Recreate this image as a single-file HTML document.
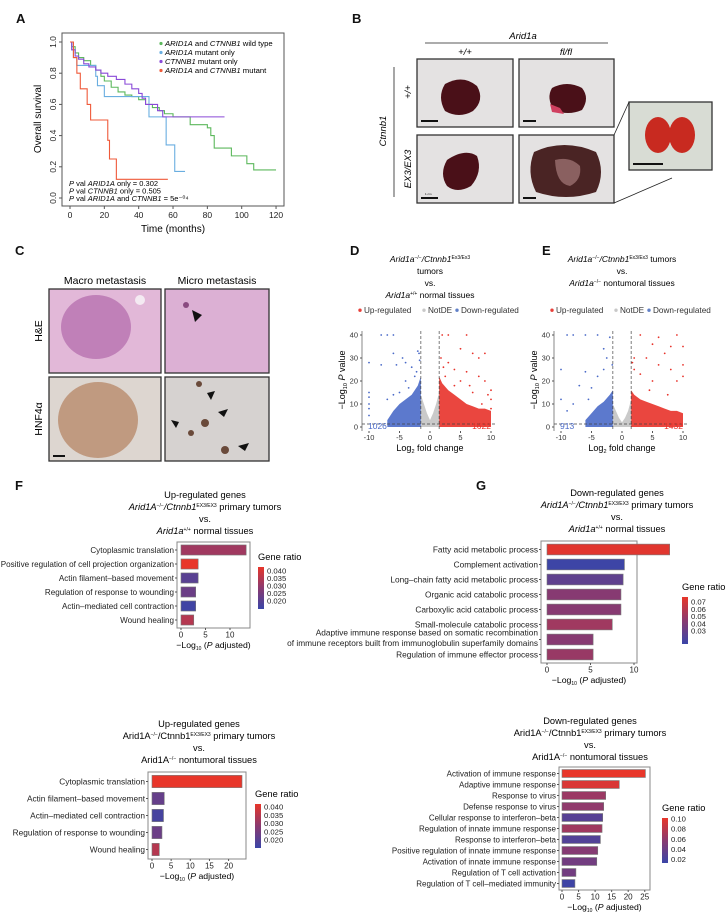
<!DOCTYPE html>
<html><head><meta charset="utf-8"><style>
html,body{margin:0;padding:0;background:#fff;}
svg{display:block;font-family:"Liberation Sans",sans-serif;}
</style></head><body>
<svg id="fig" width="726" height="913" viewBox="0 0 726 913" xmlns="http://www.w3.org/2000/svg">
<defs>
<linearGradient id="gr" x1="0" y1="0" x2="0" y2="1"><stop offset="0" stop-color="#e8362a"/><stop offset="0.5" stop-color="#8a3a70"/><stop offset="1" stop-color="#3a45a8"/></linearGradient>
</defs>
<g font-family="Liberation Sans, sans-serif" font-weight="bold" font-size="13" fill="#111">
<text x="16" y="23">A</text>
<text x="352" y="23">B</text>
<text x="15" y="255">C</text>
<text x="350" y="255">D</text>
<text x="542" y="255">E</text>
<text x="15" y="490">F</text>
<text x="476" y="490">G</text>
</g>

<g font-size="9.5">
<text x="523" y="39" text-anchor="middle" font-style="italic">Arid1a</text>
<line x1="425" y1="43" x2="608" y2="43" stroke="#222" stroke-width="0.8"/>
<text x="465" y="55" text-anchor="middle" font-style="italic">+/+</text>
<text x="566" y="55" text-anchor="middle" font-style="italic">fl/fl</text>
<line x1="394" y1="67" x2="394" y2="197" stroke="#222" stroke-width="0.8"/>
<text transform="translate(386,131) rotate(-90)" text-anchor="middle" font-style="italic">Ctnnb1</text>
<text transform="translate(411,92) rotate(-90)" text-anchor="middle" font-style="italic">+/+</text>
<text transform="translate(411,169) rotate(-90)" text-anchor="middle" font-style="italic">EX3/EX3</text>
<g><rect x="417" y="59" width="96" height="68" fill="#e4e2e2" stroke="#333" stroke-width="1.3"/>
<path d="M445,84 q18,-10 32,2 q8,14 -4,25 q-14,8 -28,0 q-8,-14 0,-27z" fill="#4a1018"/><rect x="421" y="120" width="17" height="2" fill="#111"/></g>
<g><rect x="519" y="59" width="95" height="68" fill="#e4e2e2" stroke="#333" stroke-width="1.3"/>
<path d="M552,88 q15,-8 30,0 q8,10 0,22 q-14,6 -28,0 q-8,-12 -2,-22z" fill="#4a1018"/><path d="M550,104 l10,4 l4,6 l-12,-2z" fill="#d04060"/><rect x="523" y="120" width="13" height="2" fill="#111"/></g>
<g><rect x="417" y="135" width="96" height="68" fill="#e4e2e2" stroke="#333" stroke-width="1.3"/>
<path d="M447,160 q18,-12 30,-4 q6,16 -6,30 q-14,8 -24,0 q-8,-12 0,-26z" fill="#4a1018"/><rect x="421" y="197" width="17" height="2" fill="#111"/><text x="425" y="195" font-size="3">1 cm</text></g>
<g><rect x="519" y="135" width="95" height="68" fill="#e4e2e2" stroke="#333" stroke-width="1.3"/>
<path d="M534,152 q30,-14 62,0 q10,20 0,40 q-30,10 -60,0 q-10,-20 -2,-40z" fill="#4a2424"/><path d="M555,160 q15,-4 25,6 q2,14 -10,20 q-14,-2 -15,-26z" fill="#8a6060"/><rect x="523" y="197" width="13" height="2" fill="#111"/></g>
<g><rect x="629" y="102" width="83" height="68" fill="#d8dcd4" stroke="#333" stroke-width="1.3"/>
<ellipse cx="658" cy="135" rx="13" ry="18" fill="#c82a20"/><ellipse cx="682" cy="135" rx="13" ry="18" fill="#c82a20"/><rect x="633" y="163" width="30" height="2" fill="#111"/></g>
<line x1="614" y1="135" x2="629" y2="102" stroke="#222" stroke-width="0.8"/>
<line x1="614" y1="203" x2="672" y2="178" stroke="#222" stroke-width="0.8"/>
</g>

<g font-size="10.5">
<text x="105" y="284" text-anchor="middle">Macro metastasis</text>
<text x="217" y="284" text-anchor="middle">Micro metastasis</text>
<text transform="translate(42,331) rotate(-90)" text-anchor="middle">H&amp;E</text>
<text transform="translate(42,419) rotate(-90)" text-anchor="middle">HNF4α</text>
<g><rect x="49" y="289" width="112" height="84" fill="#e2b8d8" stroke="#333" stroke-width="1.3"/><ellipse cx="96" cy="327" rx="35" ry="32" fill="#c080b8"/><circle cx="140" cy="300" r="5" fill="#f4eaf2"/></g>
<g><rect x="165" y="289" width="104" height="84" fill="#dcb0d4" stroke="#333" stroke-width="1.3"/><circle cx="186" cy="305" r="3" fill="#8a4a80"/><path d="M192,310 l10,5 l-7,7z" fill="#111"/></g>
<g><rect x="49" y="377" width="112" height="84" fill="#ddd6d0" stroke="#333" stroke-width="1.3"/><ellipse cx="98" cy="420" rx="40" ry="38" fill="#c09a80"/><rect x="53" y="455" width="12" height="2" fill="#111"/></g>
<g><rect x="165" y="377" width="104" height="84" fill="#d6d2d0" stroke="#333" stroke-width="1.3"/>
<circle cx="199" cy="384" r="3" fill="#6a4a3a"/><circle cx="205" cy="423" r="4" fill="#6a4a3a"/><circle cx="191" cy="433" r="3" fill="#6a4a3a"/><circle cx="225" cy="450" r="4" fill="#6a4a3a"/>
<path d="M207,393 l8,-2 l-4,9z" fill="#111"/><path d="M218,412 l10,-3 l-4,8z" fill="#111"/><path d="M171,420 l8,2 l-3,6z" fill="#111"/><path d="M238,446 l11,-3 l-4,8z" fill="#111"/></g>
</g>

<g id="charts"></g>
</svg>
<script>
// ===== Panel A data =====
const kmTimesWT=[0,1,3,5,8,12,15,18,20,24,28,32,36,40,44,48,52,55,60,70,80,82,84,92,94,103,107,120];
const kmSurvWT=[1,0.97,0.93,0.9,0.88,0.85,0.82,0.78,0.75,0.71,0.68,0.66,0.65,0.63,0.6,0.58,0.56,0.54,0.52,0.47,0.45,0.4,0.32,0.32,0.27,0.22,0.18,0.18];
const kmTimesArid=[0,1,2,4,15,16,20,46,56,61,67];
const kmSurvArid=[1,0.95,0.9,0.85,0.78,0.72,0.65,0.52,0.34,0.17,0.17];
const kmTimesCtn=[0,1,3,5,8,11,15,18,22,27,32,36,40,42,44,51,54,90];
const kmSurvCtn=[1,0.95,0.91,0.89,0.86,0.84,0.82,0.8,0.78,0.76,0.73,0.7,0.67,0.64,0.6,0.56,0.52,0.52];
const kmTimesBoth=[0,2,4,6,10,12,21,22,23,27,57];
const kmSurvBoth=[1,0.9,0.8,0.7,0.6,0.5,0.5,0.37,0.25,0.12,0.12];
const kmXTicks=[0,20,40,60,80,100,120];
const kmYTicks=[0,0.2,0.4,0.6,0.8,1.0];

// ===== Volcano data (D, E) =====
const volcXTicks=[-10,-5,0,5,10];
const volcYTicks=[0,10,20,30,40];
const dBlueX=[-10,-10,-10,-10,-10,-10,-8,-7,-6,-6,-5.5,-4.5,-4,-3,-2,-1.8,-2.5,-4,-5,-6,-7,-8,-3.5,-2.2,-1.7];
const dBlueY=[28,15,13,10,8,5,40,40,40,32,27,30,28,26,33,32,22,20,15,14,12,27,17,24,29];
const dRedX=[2,3,6,5,7,8,9,3,4,6,8,2.5,9,4,10,7,10,10,5,6.5,1.8,2.2,9.5,8.5];
const dRedY=[40,40,40,34,32,30,32,28,25,24,22,22,20,18,16,15,12,8,20,18,30,26,14,10];
const dBlueEnvX=[-7,-6,-5,-4,-3,-2,-1.5];
const dBlueEnvY=[3,7,10,12,14,18,22];
const dRedEnvX=[1.5,2,3,4,5,6,7,8,9,10];
const dRedEnvY=[22,19,16,14,12,10,9,8,8,7];
const dGreyEnvX=[-1.5,-1,-0.5,0,0.5,1,1.5];
const dGreyEnvY=[14,10,6,3,6,10,15];
const eBlueX=[-10,-10,-9,-8,-6,-4,-2,-3,-2.5,-6,-4,-7,-5,-8,-3,-1.6,-9,-5.5];
const eBlueY=[25,12,40,40,40,40,39,34,30,24,22,18,17,10,25,27,7,12];
const eRedX=[3,6,9,5,8,10,2,4,7,6,10,3,8,10,5,9,2,4.5,7.5,1.7];
const eRedY=[40,39,40,36,35,35,30,30,32,27,27,23,25,22,20,20,25,16,14,28];
const eBlueEnvX=[-6,-5,-4,-3,-2,-1.5];
const eBlueEnvY=[3,6,9,11,14,16];
const eRedEnvX=[1.5,2,3,4,5,6,7,8,9,10];
const eRedEnvY=[16,14,12,11,10,9,8,7,7,6];
const eGreyEnvX=[-1.5,-1,-0.5,0,0.5,1,1.5];
const eGreyEnvY=[10,7,4,2,4,7,12];

// ===== Bar chart data =====
const fTopTerms=["Cytoplasmic translation","Positive regulation of cell projection organization","Actin filament\u2013based movement","Regulation of response to wounding","Actin\u2013mediated cell contraction","Wound healing"];
const fTopValues=[13.3,3.5,3.5,3.0,3.0,2.6];
const fTopRatios=[0.033,0.043,0.022,0.025,0.018,0.036];
const fTopTicks=[0,5,10];
const fTopLegend=[0.040,0.035,0.030,0.025,0.020];

const gTopTerms=["Fatty acid metabolic process","Complement activation","Long\u2013chain fatty acid metabolic process","Organic acid catabolic process","Carboxylic acid catabolic process","Small-molecule catabolic process","Adaptive immune response based on somatic recombination|of immune receptors built from immunoglobulin superfamily domains","Regulation of immune effector process"];
const gTopValues=[14.1,8.9,8.75,8.5,8.5,7.5,5.3,5.3];
const gTopRatios=[0.075,0.026,0.037,0.05,0.05,0.057,0.05,0.055];
const gTopTicks=[0,5,10];
const gTopLegend=[0.07,0.06,0.05,0.04,0.03];

const fBotTerms=["Cytoplasmic translation","Actin filament\u2013based movement","Actin\u2013mediated cell contraction","Regulation of response to wounding","Wound healing"];
const fBotValues=[23.5,3.2,3.0,2.6,1.9];
const fBotRatios=[0.043,0.024,0.019,0.025,0.036];
const fBotTicks=[0,5,10,15,20];
const fBotLegend=[0.040,0.035,0.030,0.025,0.020];

const gBotTerms=["Activation of immune response","Adaptive immune response","Response to virus","Defense response to virus","Cellular response to interferon\u2013beta","Regulation of innate immune response","Response to interferon\u2013beta","Positive regulation of innate immune response","Activation of innate immune response","Regulation of T cell activation","Regulation of T cell\u2013mediated immunity"];
const gBotValues=[25.2,17.3,13.2,12.6,12.3,12.1,11.6,10.8,10.5,4.2,3.9];
const gBotRatios=[0.105,0.098,0.07,0.065,0.035,0.072,0.033,0.06,0.05,0.05,0.022];
const gBotTicks=[0,5,10,15,20,25];
const gBotLegend=[0.10,0.08,0.06,0.04,0.02];

const NS="http://www.w3.org/2000/svg";
const root=document.getElementById('charts');
function mk(tag,attrs,parent,name){
  const el=document.createElementNS(NS,tag);
  for(const k in attrs) el.setAttribute(k,attrs[k]);
  
  
  (parent||root).appendChild(el);
  return el;
}
function txt(x,y,s,attrs,parent,name){const t=mk('text',Object.assign({x:x,y:y},attrs||{}),parent,name);t.textContent=s;return t;}
function rich(t,parts,supSize){
  parts.forEach(p=>{const s=document.createElementNS(NS,'tspan');
    if(p[1]==1)s.setAttribute('font-style','italic');
    if(p[1]==2){s.setAttribute('font-size',supSize||'5');s.setAttribute('dy','-3');}
    if(p[1]==3){s.setAttribute('dy','3');}
    if(p[1]==4){s.setAttribute('dy','3');s.setAttribute('font-style','italic');}
    s.textContent=p[0];t.appendChild(s);});
}

// ===== Panel A =====
(function(){
  const g=mk('g',{},root,'survival-chart');
  const xA=t=>70+t*1.717, yA=s=>198-s*156;
  mk('rect',{x:62,y:33,width:222,height:173,fill:'none',stroke:'#555','stroke-width':1},g,'plot-frame');
  kmXTicks.forEach(t=>{mk('line',{x1:xA(t),x2:xA(t),y1:206,y2:209,stroke:'#555'},g,'x-tick');txt(xA(t),218,String(t),{'font-size':8.5,'text-anchor':'middle',fill:'#222'},g,'x-tick-label');});
  kmYTicks.forEach(v=>{mk('line',{x1:59,x2:62,y1:yA(v),y2:yA(v),stroke:'#555'},g,'y-tick');txt(0,0,v.toFixed(1),{'font-size':8.5,'text-anchor':'middle',fill:'#222',transform:`translate(56,${yA(v)}) rotate(-90)`},g,'y-tick-label');});
  txt(173,232,'Time (months)',{'font-size':10,'text-anchor':'middle'},g,'x-axis-title');
  txt(0,0,'Overall survival',{'font-size':10,'text-anchor':'middle',transform:'translate(41,119) rotate(-90)'},g,'y-axis-title');
  const series=[[kmTimesWT,kmSurvWT,'#5cb85c','curve-wild-type'],[kmTimesArid,kmSurvArid,'#6aaee0','curve-arid1a-mutant'],[kmTimesCtn,kmSurvCtn,'#8a4ad8','curve-ctnnb1-mutant'],[kmTimesBoth,kmSurvBoth,'#ef5a3a','curve-double-mutant']];
  series.forEach(([T,S,c,n])=>{
    let d=`M${xA(T[0])},${yA(S[0])}`;
    for(let i=1;i<T.length;i++){d+=` H${xA(T[i])} V${yA(S[i])}`;}
    mk('path',{d:d,fill:'none',stroke:c,'stroke-width':1.1},g,n);
  });
  const leg=[['#5cb85c',[['ARID1A',1],[' and ',0],['CTNNB1',1],[' wild type',0]]],['#6aaee0',[['ARID1A',1],[' mutant only',0]]],['#8a4ad8',[['CTNNB1',1],[' mutant only',0]]],['#ef5a3a',[['ARID1A',1],[' and ',0],['CTNNB1',1],[' mutant',0]]]];
  leg.forEach((l,i)=>{const y=46+i*9;mk('circle',{cx:161,cy:y-2.5,r:1.6,fill:l[0]},g,'legend-marker');
    const t=mk('text',{x:165,y:y,'font-size':7.7},g,'legend-entry');
    l[1].forEach(p=>{const s=document.createElementNS(NS,'tspan');if(p[1])s.setAttribute('font-style','italic');s.textContent=p[0];t.appendChild(s);});});
  const pv=[[['P',1],[' val ',0],['ARID1A',1],[' only = 0.302',0]],[['P',1],[' val ',0],['CTNNB1',1],[' only = 0.505',0]],[['P',1],[' val ',0],['ARID1A',1],[' and ',0],['CTNNB1',1],[' = 5e',0],['\u207B\u2070\u2074',0]]];
  pv.forEach((l,i)=>{const t=mk('text',{x:69,y:186+i*7.5,'font-size':7.5},g,'p-value-text');
    l.forEach(p=>{const s=document.createElementNS(NS,'tspan');if(p[1])s.setAttribute('font-style','italic');s.textContent=p[0];t.appendChild(s);});});
})();

// ===== Volcano =====
function volcano(ox,name,bx,by,rx,ry,bex,bey,rex,rey,gex,gey,nDown,nUp,titleLines){
  const g=mk('g',{},root,name);
  const xV=v=>ox+430+v*6.1, yV=p=>427-p*2.3;
  const cx=ox+430;
  titleLines.forEach((ln,i)=>{const t=mk('text',{x:cx,y:262+i*12,'font-size':8.5,'text-anchor':'middle'},g,'volcano-title-line');rich(t,ln,'5');});
  const ly=313;
  [['#e8403a','Up-regulated',cx-70],['#c8c8c8','NotDE',cx-6],['#6080c8','Down-regulated',cx+27]].forEach(l=>{mk('circle',{cx:l[2],cy:ly-2.8,r:1.7,fill:l[0]},g,'legend-marker');txt(l[2]+4,ly,l[1],{'font-size':8.2,fill:'#333'},g,'legend-entry');});
  mk('line',{x1:ox+362,x2:ox+362,y1:331,y2:431,stroke:'#555','stroke-width':0.7},g,'y-axis-line');
  volcYTicks.forEach(v=>{mk('line',{x1:ox+360,x2:ox+362,y1:yV(v),y2:yV(v),stroke:'#555'},g,'y-tick');txt(ox+358,yV(v)+2.5,String(v),{'font-size':7.5,'text-anchor':'end',fill:'#333'},g,'y-tick-label');});
  volcXTicks.forEach(v=>{mk('line',{x1:xV(v),x2:xV(v),y1:431,y2:433,stroke:'#555'},g,'x-tick');txt(xV(v),440,String(v),{'font-size':7.5,'text-anchor':'middle',fill:'#333'},g,'x-tick-label');});
  const xl=txt(ox+430,451,'Log',{'font-size':9,'text-anchor':'middle'},g,'x-axis-title');
  const s1=document.createElementNS(NS,'tspan');s1.setAttribute('font-size','5.5');s1.setAttribute('dy','2');s1.textContent='2';xl.appendChild(s1);
  const s2=document.createElementNS(NS,'tspan');s2.setAttribute('dy','-2');s2.textContent=' fold change';xl.appendChild(s2);
  const yl=txt(0,0,'\u2212Log',{'font-size':9,'text-anchor':'middle',transform:`translate(${ox+345},380) rotate(-90)`},g,'y-axis-title');
  const s3=document.createElementNS(NS,'tspan');s3.setAttribute('font-size','5.5');s3.setAttribute('dy','2');s3.textContent='10';yl.appendChild(s3);
  const s4=document.createElementNS(NS,'tspan');s4.setAttribute('dy','-2');s4.setAttribute('font-style','italic');s4.textContent=' P';yl.appendChild(s4);
  const s5=document.createElementNS(NS,'tspan');s5.textContent=' value';yl.appendChild(s5);
  function env(X,Y,col,n){let d=`M${xV(X[0])},${yV(0)}`;X.forEach((x,i)=>{d+=` L${xV(x)},${yV(Y[i])}`;});d+=` L${xV(X[X.length-1])},${yV(0)} Z`;mk('path',{d:d,fill:col,opacity:0.9},g,n);}
  env(gex,gey,'#c4c4c4','notde-density');
  env(bex,bey,'#4a6ac8','down-density');
  env(rex,rey,'#e8322a','up-density');
  bx.forEach((x,i)=>mk('circle',{cx:xV(x),cy:yV(by[i]),r:0.9,fill:'#4a6ac8'},g,'down-point'));
  rx.forEach((x,i)=>mk('circle',{cx:xV(x),cy:yV(ry[i]),r:0.9,fill:'#e8322a'},g,'up-point'));
  [-1.5,1.5].forEach(v=>mk('line',{x1:xV(v),x2:xV(v),y1:331,y2:431,stroke:'#444','stroke-dasharray':'3,2','stroke-width':0.7},g,'fc-threshold-line'));
  mk('line',{x1:ox+362,x2:ox+495,y1:yV(1.3),y2:yV(1.3),stroke:'#444','stroke-dasharray':'3,2','stroke-width':0.7},g,'p-threshold-line');
  txt(ox+368,429,String(nDown),{'font-size':8.5,fill:'#4a6ac8'},g,'down-count');
  txt(ox+491,429,String(nUp),{'font-size':8.5,fill:'#e8322a','text-anchor':'end'},g,'up-count');
}
volcano(0,'volcano-d',dBlueX,dBlueY,dRedX,dRedY,dBlueEnvX,dBlueEnvY,dRedEnvX,dRedEnvY,dGreyEnvX,dGreyEnvY,1026,1622,
 [[['Arid1a',1],['\u2212/\u2212',2],['/Ctnnb1',4],['Ex3/Ex3',2]],[['tumors',0]],[['vs.',0]],[['Arid1a',1],['+/+',2],[' normal tissues',3]]]);
volcano(192,'volcano-e',eBlueX,eBlueY,eRedX,eRedY,eBlueEnvX,eBlueEnvY,eRedEnvX,eRedEnvY,eGreyEnvX,eGreyEnvY,913,1432,
 [[['Arid1a',1],['\u2212/\u2212',2],['/Ctnnb1',4],['Ex3/Ex3',2],[' tumors',3]],[['vs.',0]],[['Arid1a',1],['\u2212/\u2212',2],[' nontumoral tissues',3]]]);

// ===== Bar charts =====
function ratioColor(r,lo,hi){
  let t=(r-lo)/(hi-lo);t=Math.max(0,Math.min(1,t));
  const A=[58,69,168],M=[138,58,112],B=[232,54,42];
  let c; if(t<0.5){const u=t/0.5;c=A.map((a,i)=>a+(M[i]-a)*u);}else{const u=(t-0.5)/0.5;c=M.map((a,i)=>a+(B[i]-a)*u);}
  return `rgb(${c.map(Math.round).join(',')})`;
}
function barChart(o){
  const g=mk('g',{},root,o.name);
  o.title.forEach((ln,i)=>{const t=mk('text',{x:o.tcx,y:o.ty+i*12,'font-size':9.3,'text-anchor':'middle'},g,'chart-title-line');rich(t,ln,'5');});
  mk('rect',{x:o.bx0,y:o.by0,width:o.bx1-o.bx0,height:o.by1-o.by0,fill:'#fff',stroke:'#888','stroke-width':1},g,'plot-frame');
  const xS=v=>o.x0+v*o.ppu;
  const n=o.terms.length, step=(o.by1-o.by0-2*o.pad)/n, bh=step*0.72;
  o.terms.forEach((term,i)=>{
    const cy=o.by0+o.pad+step*(i+0.5);
    mk('rect',{x:xS(0),y:cy-bh/2,width:xS(o.values[i])-xS(0),height:bh,fill:ratioColor(o.ratios[i],o.lo,o.hi),stroke:'#777','stroke-width':0.6},g,'bar');
    mk('line',{x1:o.bx0-2,x2:o.bx0,y1:cy,y2:cy,stroke:'#555'},g,'y-tick');
    const parts=term.split('|');
    if(parts.length==1) txt(o.bx0-3,cy+2.8,term,{'font-size':o.fs,'text-anchor':'end',fill:'#222'},g,'term-label');
    else parts.forEach((p,j)=>txt(o.bx0-3,cy-4+j*10.5,p,{'font-size':o.fs,'text-anchor':'end',fill:'#222'},g,'term-label'));
  });
  o.ticks.forEach(v=>{mk('line',{x1:xS(v),x2:xS(v),y1:o.by1,y2:o.by1+2,stroke:'#555'},g,'x-tick');txt(xS(v),o.by1+9.5,String(v),{'font-size':8,'text-anchor':'middle',fill:'#222'},g,'x-tick-label');});
  const xl=txt((o.bx0+o.bx1)/2,o.by1+20,'\u2212Log',{'font-size':8.7,'text-anchor':'middle'},g,'x-axis-title');
  const a=document.createElementNS(NS,'tspan');a.setAttribute('font-size','5');a.setAttribute('dy','2');a.textContent='10';xl.appendChild(a);
  const b=document.createElementNS(NS,'tspan');b.setAttribute('dy','-2');b.textContent=' (';xl.appendChild(b);
  const c=document.createElementNS(NS,'tspan');c.setAttribute('font-style','italic');c.textContent='P';xl.appendChild(c);
  const d=document.createElementNS(NS,'tspan');d.textContent=' adjusted)';xl.appendChild(d);
  txt(o.lx,o.ly,'Gene ratio',{'font-size':9.3},g,'legend-title');
  mk('rect',{x:o.lx,y:o.ly+7,width:6,height:o.lh,fill:'url(#gr)'},g,'colorbar');
  o.legend.forEach((v,i)=>{const y=o.ly+7+o.lh*( (o.lhi-v)/(o.lhi-o.llo) )*o.lfr+o.loff;txt(o.lx+9,y+2.5,v.toFixed(o.dec),{'font-size':7.7,fill:'#222'},g,'legend-label');});
}
barChart({name:'bar-chart-f-top',terms:fTopTerms,values:fTopValues,ratios:fTopRatios,ticks:fTopTicks,legend:fTopLegend,lo:0.017,hi:0.043,
 bx0:177,bx1:250,by0:542,by1:628,pad:1,x0:181,ppu:4.9,fs:8.1,tcx:205,ty:498,
 title:[[['Up-regulated genes',0]],[['Arid1A',1],['\u2212/\u2212',2],['/Ctnnb1',4],['EX3/EX3',2],[' primary tumors',3]],[['vs.',0]],[['Arid1a',1],['+/+',2],[' normal tissues',3]]],
 lx:258,ly:560,lh:42,lhi:0.040,llo:0.020,lfr:0.72,loff:4,dec:3});
barChart({name:'bar-chart-g-top',terms:gTopTerms,values:gTopValues,ratios:gTopRatios,ticks:gTopTicks,legend:gTopLegend,lo:0.025,hi:0.077,
 bx0:541,bx1:637,by0:541,by1:663,pad:1,x0:547,ppu:8.7,fs:8.3,tcx:617,ty:496,
 title:[[['Down-regulated genes',0]],[['Arid1A',1],['\u2212/\u2212',2],['/Ctnnb1',4],['EX3/EX3',2],[' primary tumors',3]],[['vs.',0]],[['Arid1a',1],['+/+',2],[' normal tissues',3]]],
 lx:682,ly:590,lh:47,lhi:0.07,llo:0.03,lfr:0.62,loff:5,dec:2});
barChart({name:'bar-chart-f-bottom',terms:fBotTerms,values:fBotValues,ratios:fBotRatios,ticks:fBotTicks,legend:fBotLegend,lo:0.017,hi:0.043,
 bx0:148,bx1:246,by0:772,by1:859,pad:1,x0:152,ppu:3.83,fs:8.3,tcx:199,ty:727,
 title:[[['Up-regulated genes',0]],[['Arid1A',0],['\u2212/\u2212',2],['/Ctnnb1',3],['EX3/EX3',2],[' primary tumors',3]],[['vs.',0]],[['Arid1A',0],['\u2212/\u2212',2],[' nontumoral tissues',3]]],
 lx:255,ly:797,lh:44,lhi:0.040,llo:0.020,lfr:0.75,loff:3,dec:3});
barChart({name:'bar-chart-g-bottom',terms:gBotTerms,values:gBotValues,ratios:gBotRatios,ticks:gBotTicks,legend:gBotLegend,lo:0.02,hi:0.105,
 bx0:559,bx1:650,by0:767,by1:890,pad:1,x0:562,ppu:3.31,fs:8,tcx:590,ty:724,
 title:[[['Down-regulated genes',0]],[['Arid1A',0],['\u2212/\u2212',2],['/Ctnnb1',3],['EX3/EX3',2],[' primary tumors',3]],[['vs.',0]],[['Arid1A',0],['\u2212/\u2212',2],[' nontumoral tissues',3]]],
 lx:662,ly:811,lh:45,lhi:0.10,llo:0.02,lfr:0.9,loff:1,dec:2});
</script>
</body></html>
